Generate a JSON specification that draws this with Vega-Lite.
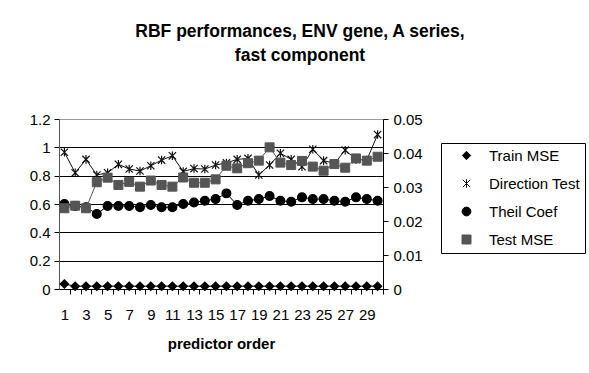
{
  "$schema": "https://vega.github.io/schema/vega-lite/v6.json",
  "width": 324,
  "height": 170,
  "autosize": {"type": "none"},
  "padding": {"left": 59, "top": 119, "right": 206, "bottom": 84},
  "background": "white",
  "config": {
    "font": "Liberation Sans",
    "view": {"stroke": null},
    "axis": {"labelFont": "Liberation Sans", "labelFontSize": 15, "labelColor": "black", "titleFont": "Liberation Sans", "titleColor": "black", "tickColor": "black", "domainColor": "black"}
  },
  "title": {
    "text": ["RBF performances, ENV gene, A series,", "fast component"],
    "font": "Liberation Sans",
    "fontSize": 17.5,
    "fontWeight": "bold",
    "color": "black",
    "anchor": "middle",
    "frame": "group",
    "dx": 79,
    "lineHeight": 24,
    "offset": 48
  },
  "data": {
    "values": [
      {"order": 1, "Train MSE": 0.035, "Direction Test": 0.965, "Theil Coef": 0.6, "Test MSE": 0.02375},
      {"order": 2, "Train MSE": 0.02, "Direction Test": 0.82, "Theil Coef": 0.586, "Test MSE": 0.0245},
      {"order": 3, "Train MSE": 0.02, "Direction Test": 0.915, "Theil Coef": 0.577, "Test MSE": 0.02375},
      {"order": 4, "Train MSE": 0.02, "Direction Test": 0.805, "Theil Coef": 0.53, "Test MSE": 0.0314},
      {"order": 5, "Train MSE": 0.02, "Direction Test": 0.82, "Theil Coef": 0.586, "Test MSE": 0.03275},
      {"order": 6, "Train MSE": 0.02, "Direction Test": 0.88, "Theil Coef": 0.586, "Test MSE": 0.0306},
      {"order": 7, "Train MSE": 0.02, "Direction Test": 0.847, "Theil Coef": 0.586, "Test MSE": 0.0315},
      {"order": 8, "Train MSE": 0.02, "Direction Test": 0.833, "Theil Coef": 0.577, "Test MSE": 0.0301},
      {"order": 9, "Train MSE": 0.02, "Direction Test": 0.87, "Theil Coef": 0.593, "Test MSE": 0.0319},
      {"order": 10, "Train MSE": 0.02, "Direction Test": 0.91, "Theil Coef": 0.577, "Test MSE": 0.0306},
      {"order": 11, "Train MSE": 0.02, "Direction Test": 0.94, "Theil Coef": 0.577, "Test MSE": 0.0301},
      {"order": 12, "Train MSE": 0.02, "Direction Test": 0.83, "Theil Coef": 0.6, "Test MSE": 0.0328},
      {"order": 13, "Train MSE": 0.02, "Direction Test": 0.85, "Theil Coef": 0.61, "Test MSE": 0.03125},
      {"order": 14, "Train MSE": 0.02, "Direction Test": 0.847, "Theil Coef": 0.623, "Test MSE": 0.03125},
      {"order": 15, "Train MSE": 0.02, "Direction Test": 0.875, "Theil Coef": 0.635, "Test MSE": 0.03225},
      {"order": 16, "Train MSE": 0.02, "Direction Test": 0.89, "Theil Coef": 0.675, "Test MSE": 0.03625},
      {"order": 17, "Train MSE": 0.02, "Direction Test": 0.915, "Theil Coef": 0.593, "Test MSE": 0.0355},
      {"order": 18, "Train MSE": 0.02, "Direction Test": 0.922, "Theil Coef": 0.623, "Test MSE": 0.037},
      {"order": 19, "Train MSE": 0.02, "Direction Test": 0.805, "Theil Coef": 0.635, "Test MSE": 0.03775},
      {"order": 20, "Train MSE": 0.02, "Direction Test": 0.875, "Theil Coef": 0.656, "Test MSE": 0.04167},
      {"order": 21, "Train MSE": 0.02, "Direction Test": 0.958, "Theil Coef": 0.623, "Test MSE": 0.03717},
      {"order": 22, "Train MSE": 0.02, "Direction Test": 0.915, "Theil Coef": 0.616, "Test MSE": 0.03646},
      {"order": 23, "Train MSE": 0.02, "Direction Test": 0.863, "Theil Coef": 0.647, "Test MSE": 0.03767},
      {"order": 24, "Train MSE": 0.02, "Direction Test": 0.986, "Theil Coef": 0.635, "Test MSE": 0.036},
      {"order": 25, "Train MSE": 0.02, "Direction Test": 0.906, "Theil Coef": 0.635, "Test MSE": 0.0348},
      {"order": 26, "Train MSE": 0.02, "Direction Test": 0.887, "Theil Coef": 0.623, "Test MSE": 0.03675},
      {"order": 27, "Train MSE": 0.02, "Direction Test": 0.98, "Theil Coef": 0.616, "Test MSE": 0.03567},
      {"order": 28, "Train MSE": 0.02, "Direction Test": 0.915, "Theil Coef": 0.647, "Test MSE": 0.0384},
      {"order": 29, "Train MSE": 0.02, "Direction Test": 0.91, "Theil Coef": 0.635, "Test MSE": 0.03775},
      {"order": 30, "Train MSE": 0.02, "Direction Test": 1.09, "Theil Coef": 0.623, "Test MSE": 0.0389}
    ]
  },
  "transform": [
    {"fold": ["Train MSE", "Direction Test", "Theil Coef", "Test MSE"], "as": ["series", "value"]}
  ],
  "encoding": {
    "x": {
      "field": "order",
      "type": "quantitative",
      "scale": {"domain": [0.5, 30.5], "nice": false, "zero": false},
      "axis": {
        "values": [1,2,3,4,5,6,7,8,9,10,11,12,13,14,15,16,17,18,19,20,21,22,23,24,25,26,27,28,29,30],
        "labelExpr": "datum.value % 2 == 1 ? datum.label : ''",
        "tickOffset": 5.4,
        "labelOffset": -5.4,
        "tickSize": 5,
        "labelPadding": 13,
        "grid": false,
        "title": "predictor order",
        "titleFontSize": 15,
        "titleFontWeight": "bold",
        "titlePadding": 14,
        "labelOverlap": false
      }
    },
    "color": {
      "field": "series",
      "type": "nominal",
      "scale": {"domain": ["Train MSE", "Direction Test", "Theil Coef", "Test MSE"], "range": ["black", "#111111", "black", "#555555"]},
      "legend": {
        "orient": "none",
        "legendX": 382,
        "legendY": 24,
        "title": null,
        "strokeColor": "black",
        "fillColor": "white",
        "padding": 5,
        "labelFont": "Liberation Sans",
        "labelFontSize": 15,
        "labelColor": "black",
        "symbolSize": 81,
        "symbolOffset": 13,
        "labelOffset": 15,
        "rowPadding": 12,
        "symbolStrokeWidth": 1
      }
    }
  },
  "layer": [
    {
      "transform": [{"filter": "datum.series != 'Test MSE'"}],
      "encoding": {
        "y": {
          "field": "value",
          "type": "quantitative",
          "scale": {"domain": [0, 1.2], "nice": false},
          "axis": {
            "values": [0, 0.2, 0.4, 0.6, 0.8, 1, 1.2],
            "format": ".1~f",
            "grid": true,
            "gridColor": {"condition": {"test": "datum.value >= 1.19", "value": "#999999"}, "value": "black"},
            "gridOpacity": 1,
            "gridWidth": 1,
            "domainColor": "#555555",
            "tickSize": 5,
            "labelPadding": 4,
            "title": null
          }
        }
      },
      "layer": [
        {"mark": {"type": "line", "strokeWidth": 1}},
        {
          "mark": {"type": "point", "filled": true, "opacity": 1, "strokeWidth": 1.2},
          "encoding": {
            "shape": {
              "field": "series",
              "type": "nominal",
              "scale": {"domain": ["Train MSE", "Direction Test", "Theil Coef", "Test MSE"], "range": ["diamond", "M0,-1V1M-0.85,-0.85L0.85,0.85M-0.85,0.85L0.85,-0.85", "circle", "square"]},
              "legend": null
            },
            "stroke": {
              "field": "series",
              "type": "nominal",
              "scale": {"domain": ["Train MSE", "Direction Test", "Theil Coef", "Test MSE"], "range": ["black", "#111111", "black", "#555555"]},
              "legend": null
            },
            "size": {
              "field": "series",
              "type": "nominal",
              "scale": {"domain": ["Train MSE", "Direction Test", "Theil Coef", "Test MSE"], "range": [70, 81, 64, 64]},
              "legend": null
            }
          }
        }
      ]
    },
    {
      "transform": [{"filter": "datum.series == 'Test MSE'"}],
      "encoding": {
        "y": {
          "field": "value",
          "type": "quantitative",
          "scale": {"domain": [0, 0.05], "nice": false},
          "axis": {
            "orient": "right",
            "values": [0, 0.01, 0.02, 0.03, 0.04, 0.05],
            "format": ".2~f",
            "grid": false,
            "tickSize": 5,
            "labelPadding": 5,
            "title": null
          }
        }
      },
      "layer": [
        {"mark": {"type": "line", "strokeWidth": 1}},
        {
          "mark": {"type": "point", "filled": true, "opacity": 1, "strokeWidth": 1},
          "encoding": {
            "shape": {"field": "series", "type": "nominal", "legend": null},
            "stroke": {"field": "series", "type": "nominal", "legend": null},
            "size": {"field": "series", "type": "nominal", "legend": null}
          }
        }
      ]
    }
  ],
  "resolve": {"scale": {"y": "independent"}}
}
